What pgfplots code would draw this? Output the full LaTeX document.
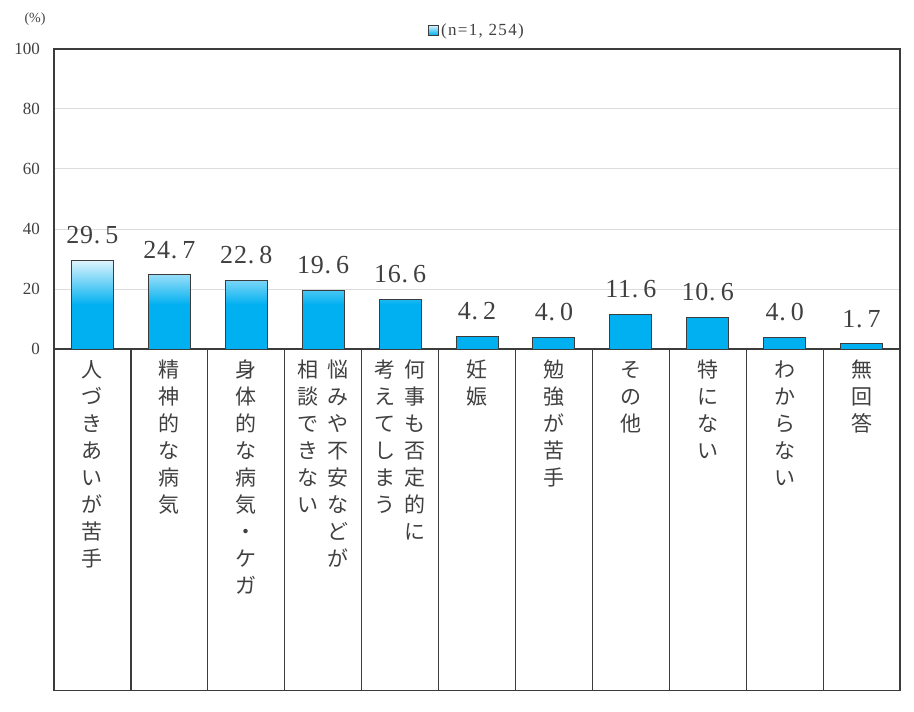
\documentclass[border=0pt]{standalone}
\usepackage{fontspec}
\setmainfont{Liberation Serif}
\newfontfamily\jp{Noto Sans CJK JP}
\newfontfamily\numfont[LetterSpace=3]{Liberation Serif}
\newfontfamily\legfont[LetterSpace=8]{Liberation Serif}
\usepackage{pgfplots}
\pgfplotsset{compat=1.18}
\definecolor{barcyan}{RGB}{0,176,240}
\definecolor{bartop}{RGB}{222,244,253}
\definecolor{axgray}{RGB}{60,60,60}
\definecolor{txt}{RGB}{64,64,64}
\definecolor{gridgray}{RGB}{220,220,220}

\newcommand\labA{\begin{tabular}[t]{@{}c@{}}人\\づ\\き\\あ\\い\\が\\苦\\手\end{tabular}}
\newcommand\labB{\begin{tabular}[t]{@{}c@{}}精\\神\\的\\な\\病\\気\end{tabular}}
\newcommand\labC{\begin{tabular}[t]{@{}c@{}}身\\体\\的\\な\\病\\気\\・\\ケ\\ガ\end{tabular}}
\newcommand\labD{\begin{tabular}[t]{@{}c@{\hspace{9pt}}c@{}}相&悩\\談&み\\で&や\\き&不\\な&安\\い&な\\&ど\\&が\end{tabular}}
\newcommand\labE{\begin{tabular}[t]{@{}c@{\hspace{9pt}}c@{}}考&何\\え&事\\て&も\\し&否\\ま&定\\う&的\\&に\end{tabular}}
\newcommand\labF{\begin{tabular}[t]{@{}c@{}}妊\\娠\end{tabular}}
\newcommand\labG{\begin{tabular}[t]{@{}c@{}}勉\\強\\が\\苦\\手\end{tabular}}
\newcommand\labH{\begin{tabular}[t]{@{}c@{}}そ\\の\\他\end{tabular}}
\newcommand\labI{\begin{tabular}[t]{@{}c@{}}特\\に\\な\\い\end{tabular}}
\newcommand\labJ{\begin{tabular}[t]{@{}c@{}}わ\\か\\ら\\な\\い\end{tabular}}
\newcommand\labK{\begin{tabular}[t]{@{}c@{}}無\\回\\答\end{tabular}}

\begin{document}
\begin{tikzpicture}
\begin{axis}[
  width=846pt, height=300pt, scale only axis,
  xmin=-0.5, xmax=10.5, ymin=0, ymax=100,
  ytick={0,20,40,60,80,100},
  xtick={0,1,2,3,4,5,6,7,8,9,10},
  xticklabels={\labA,\labB,\labC,\labD,\labE,\labF,\labG,\labH,\labI,\labJ,\labK},
  major tick length=0pt,
  ymajorgrids, grid style={gridgray, line width=1pt},
  axis line style={axgray, line width=1.2pt},
  clip=false,
  bar width=42pt,
  xticklabel style={font=\jp\fontsize{21}{27}\selectfont, text=txt, anchor=north, inner sep=0pt, yshift=-9pt},
  yticklabel style={font=\fontsize{17}{19}\selectfont, text=txt, anchor=east, inner sep=0pt, xshift=-14pt},
  /pgf/number format/assume math mode=true,
  nodes near coords={\pgfmathprintnumber[fixed,fixed zerofill,precision=1,dec sep={.\hspace{5pt}}]{\pgfplotspointmeta}},
  nodes near coords style={font=\numfont\fontsize{26}{28}\selectfont, text=txt, anchor=south, inner sep=0pt, yshift=16pt},
  legend style={at={(0.5,1)}, anchor=south, yshift=8pt, draw=none, fill=none, font=\legfont\fontsize{17}{19}\selectfont, text=txt},
  legend image code/.code={\path[top color=bartop,bottom color=barcyan,draw=axgray,line width=0.8pt] (0pt,-5pt) rectangle (10pt,5pt);},
]
\addplot[ybar, draw=axgray, line width=0.9pt, top color=bartop, bottom color=barcyan, middle color=barcyan]
  coordinates {(0,29.5)(1,24.7)(2,22.8)(3,19.6)(4,16.6)(5,4.2)(6,4.0)(7,11.6)(8,10.6)(9,4.0)(10,1.7)};
\addlegendentry{(n=1,\ 254)}
\draw[axgray, line width=1.2pt] (axis cs:-0.5,0) -- (axis cs:-0.5,-113.7) -- (axis cs:10.5,-113.7) -- (axis cs:10.5,0);
\pgfplotsinvokeforeach{0.5,1.5,2.5,3.5,4.5,5.5,6.5,7.5,8.5,9.5}{
  \draw[axgray, line width=1.2pt] (axis cs:#1,0) -- (axis cs:#1,-113.7);
}
\node[font=\fontsize{14}{16}\selectfont, text=txt, xshift=-19pt, yshift=30pt] at (rel axis cs:0,1) {(\%)};
\coordinate (TL) at (rel axis cs:0,1);
\coordinate (BR) at (rel axis cs:1,0);
\end{axis}
\path ([xshift=-54pt,yshift=49pt]TL) rectangle ([xshift=14pt,yshift=-362pt]BR);
\end{tikzpicture}
\end{document}
